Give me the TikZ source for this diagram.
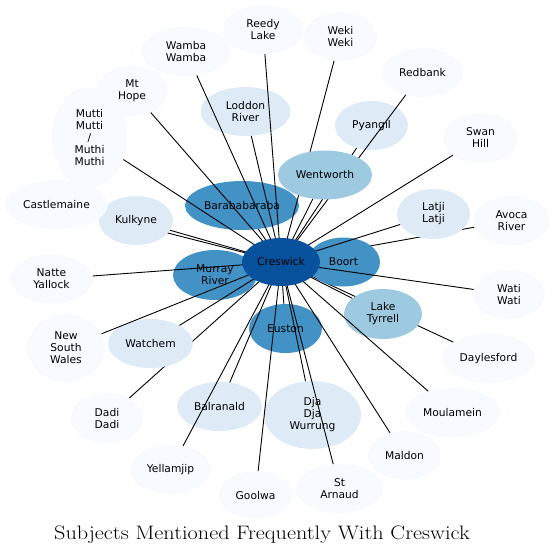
\documentclass[tikz,border=0pt]{standalone}
\usepackage{graphicx}
\usepackage{fontspec}
\newfontfamily\labelfont{DejaVu Sans}
\usetikzlibrary{shapes.geometric}
\pgfdeclarelayer{back}
\pgfdeclarelayer{front}
\pgfsetlayers{back,main,front}
\definecolor{blueA}{HTML}{08519C}
\definecolor{blueB}{HTML}{4292C6}
\definecolor{blueC}{HTML}{9ECAE1}
\definecolor{blueD}{HTML}{DEEBF7}
\definecolor{blueE}{HTML}{F7FBFF}
\begin{document}
\begin{tikzpicture}[x=1pt, y=-1pt,
    bub/.style={ellipse, inner sep=0pt, align=center,
      font=\labelfont\fontsize{10.7}{12}\selectfont},
    lvA/.style={bub, fill=blueA},
    lvB/.style={bub, fill=blueB},
    lvC/.style={bub, fill=blueC},
    lvD/.style={bub, fill=blueD},
    lvE/.style={bub, fill=blueE},
    link/.style={line width=0.9pt}]
  \useasboundingbox (0,0) rectangle (556,555);
  % hub and the nodes that hide edges
  \begin{pgfonlayer}{front}
    \node[lvA, minimum width=78, minimum height=48] (cres) at (281,262) {Creswick};
    \node[lvC, minimum width=94, minimum height=49] (went) at (325,175) {Wentworth};
  \end{pgfonlayer}
  \node[lvB, minimum width=73, minimum height=49] (boort) at (343.5,262) {Boort};
  \node[lvB, minimum width=114, minimum height=49] (bara) at (242,205.5) {Barababaraba};
  \node[lvB, minimum width=84, minimum height=50] (murray) at (215,275) {Murray\\River};
  \node[lvB, minimum width=73, minimum height=49] (euston) at (285.5,328.5) {Euston};
  \node[lvC, minimum width=78, minimum height=50] (tyrrell) at (383,314) {Lake\\Tyrrell};
  \node[lvD, minimum width=90, minimum height=49] (loddon) at (245.5,111.5) {Loddon\\River};
  \node[lvD, minimum width=73, minimum height=49] (pyangil) at (371.5,125.5) {Pyangil};
  \node[lvD, minimum width=74, minimum height=49] (kulkyne) at (136,220.5) {Kulkyne};
  \node[lvD, minimum width=73, minimum height=50] (latji) at (433.5,214) {Latji\\Latji};
  \node[lvD, minimum width=85, minimum height=49] (watchem) at (150.5,343.5) {Watchem};
  \node[lvD, minimum width=85, minimum height=49] (balranald) at (219.5,406.5) {Balranald};
  \node[lvD, minimum width=97, minimum height=68] (dja) at (312.5,415) {Dja\\Dja\\Wurrung};
  \node[lvE, minimum width=80, minimum height=49] (reedy) at (263,29.5) {Reedy\\Lake};
  \node[lvE, minimum width=73, minimum height=49] (weki) at (340.5,36.5) {Weki\\Weki};
  \node[lvE, minimum width=90, minimum height=49] (wamba) at (186,51.5) {Wamba\\Wamba};
  \node[lvE, minimum width=72, minimum height=50] (hope) at (132,91) {Mt\\Hope};
  \node[lvE, minimum width=75, minimum height=101] (mutti) at (89.5,137.5) {Mutti\\Mutti\\/\\Muthi\\Muthi};
  \node[lvE, minimum width=103, minimum height=49] (castle) at (56.5,204.5) {Castlemaine};
  \node[lvE, minimum width=81, minimum height=49] (redbank) at (422.5,72.5) {Redbank};
  \node[lvE, minimum width=75, minimum height=50] (swan) at (480.5,138) {Swan\\Hill};
  \node[lvE, minimum width=77, minimum height=49] (avoca) at (511.5,220.5) {Avoca\\River};
  \node[lvE, minimum width=72, minimum height=49] (wati) at (509,294.5) {Wati\\Wati};
  \node[lvE, minimum width=93, minimum height=49] (dayles) at (488.5,358.5) {Daylesford};
  \node[lvE, minimum width=95, minimum height=49] (moula) at (452.5,412.5) {Moulamein};
  \node[lvE, minimum width=73, minimum height=49] (maldon) at (404.5,455.5) {Maldon};
  \node[lvE, minimum width=87, minimum height=49] (arnaud) at (339.5,488.5) {St\\Arnaud};
  \node[lvE, minimum width=73, minimum height=48] (goolwa) at (255.5,495) {Goolwa};
  \node[lvE, minimum width=81, minimum height=49] (yellam) at (170.5,469.5) {Yellamjip};
  \node[lvE, minimum width=72, minimum height=50] (dadi) at (107,418) {Dadi\\Dadi};
  \node[lvE, minimum width=78, minimum height=68] (nsw) at (66,348) {New\\South\\Wales};
  \node[lvE, minimum width=83, minimum height=49] (natte) at (51.5,279) {Natte\\Yallock};
  % edges that pass under other nodes
  \begin{pgfonlayer}{back}
    \foreach \n in {castle, dadi, dayles, avoca}
      \draw[link] (cres.center) -- (\n);
  \end{pgfonlayer}
  \foreach \n in {boort, bara, murray, euston, went, tyrrell, loddon, pyangil,
      kulkyne, latji, watchem, balranald, dja, reedy, weki, wamba, hope, mutti,
      redbank, swan, wati, moula, maldon, arnaud, goolwa, yellam, nsw, natte}
    \draw[link] (cres.center) -- (\n);
  \node[font=\fontsize{19.5}{23}\selectfont, anchor=base] (title) at (262,539)
    {\scalebox{1.14}[1]{Subjects Mentioned Frequently With Creswick}};
\end{tikzpicture}
\end{document}
